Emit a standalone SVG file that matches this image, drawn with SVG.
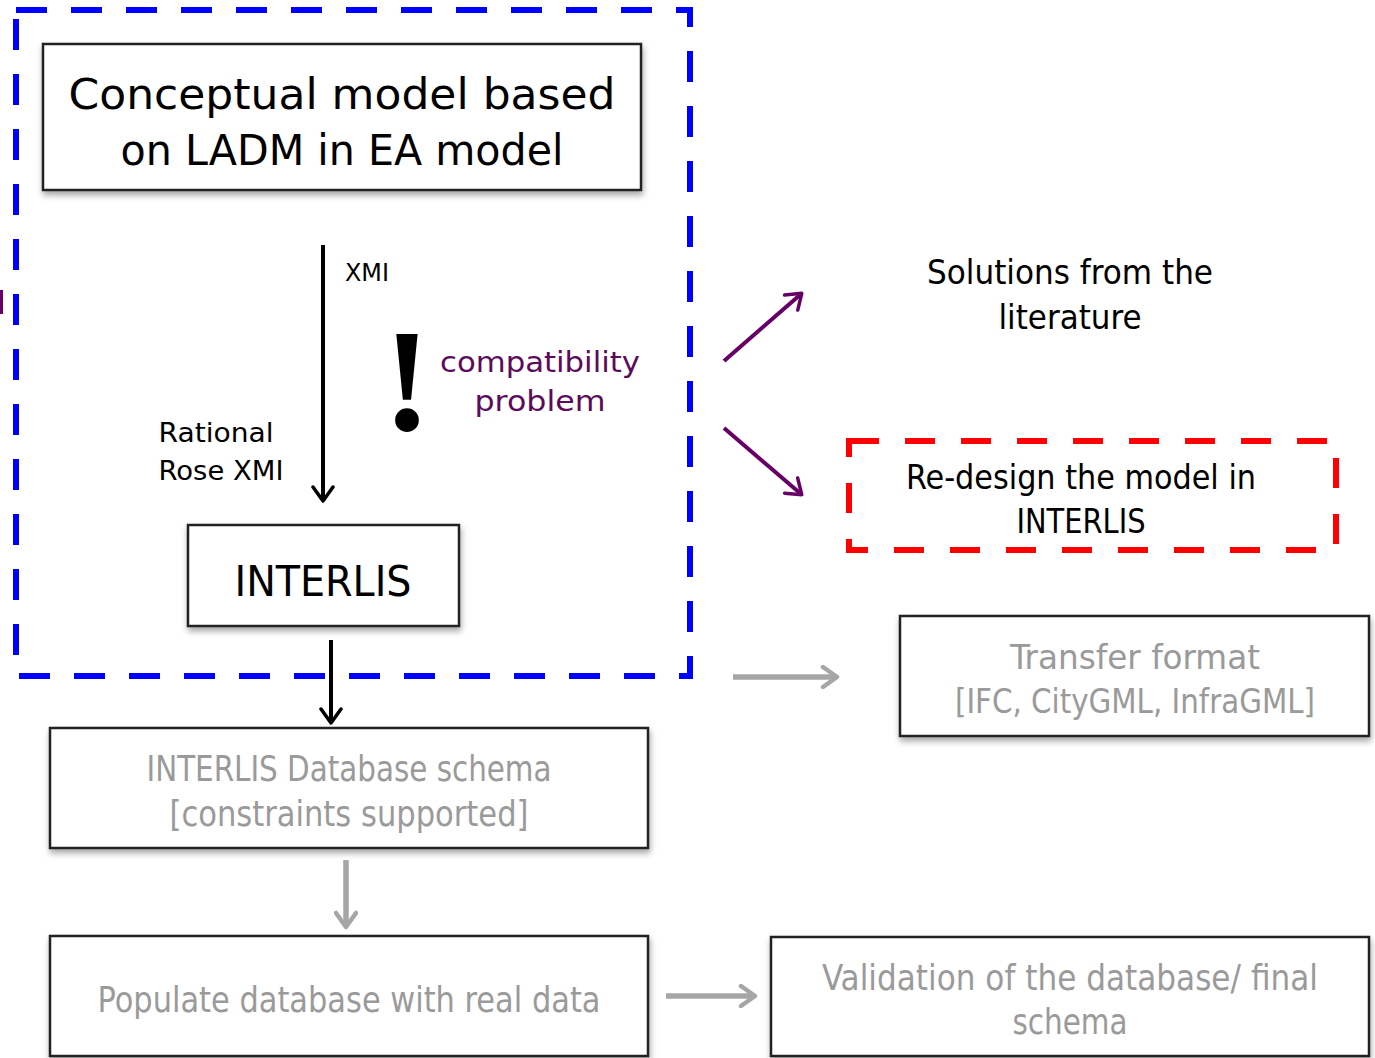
<svg xmlns="http://www.w3.org/2000/svg" width="1375" height="1058" viewBox="0 0 1375 1058">
<defs>
<filter id="sh" x="-5%" y="-5%" width="112%" height="120%">
<feDropShadow dx="1" dy="4" stdDeviation="3" flood-color="#000" flood-opacity="0.35"/>
</filter>
<marker id="ak" viewBox="0 0 24 24" refX="17" refY="12" markerWidth="24" markerHeight="24" markerUnits="userSpaceOnUse" orient="auto">
<path d="M4,2 L18,12 L4,22" fill="none" stroke="#000" stroke-width="3.5" stroke-linecap="round" stroke-linejoin="round"/>
</marker>
<marker id="ag" viewBox="0 0 24 24" refX="17" refY="12" markerWidth="24" markerHeight="24" markerUnits="userSpaceOnUse" orient="auto">
<path d="M4,2 L18,12 L4,22" fill="none" stroke="#a6a6a6" stroke-width="4.5" stroke-linecap="round" stroke-linejoin="round"/>
</marker>
<marker id="ap" viewBox="0 0 24 24" refX="17" refY="12" markerWidth="24" markerHeight="24" markerUnits="userSpaceOnUse" orient="auto">
<path d="M4,2 L18,12 L4,22" fill="none" stroke="#660066" stroke-width="3.5" stroke-linecap="round" stroke-linejoin="round"/>
</marker>
</defs>
<style>
.box{fill:#fff;stroke:#222;stroke-width:2.5}
.t{font-family:"DejaVu Sans","Liberation Sans",sans-serif;text-anchor:middle;fill:#000}
.n{font-family:"DejaVu Sans Condensed","DejaVu Sans","Liberation Sans",sans-serif;text-anchor:middle;fill:#000}
.g{fill:#9a9a9a}
.blk{stroke:#000;stroke-width:4;fill:none}
.gry{stroke:#a6a6a6;stroke-width:5.5;fill:none}
.pur{stroke:#660066;stroke-width:4;fill:none}
</style>
<rect x="0" y="290" width="3" height="24" fill="#660066"/>
<g id="blue-region">
<rect x="16" y="10" width="674" height="666" fill="none" stroke="#0000ff" stroke-width="6" stroke-dasharray="31 24"/>
</g>
<g id="n-conceptual">
<rect class="box" x="43" y="44" width="598" height="146" filter="url(#sh)"/>
<text class="t" x="342" y="109" font-size="42" textLength="547" lengthAdjust="spacingAndGlyphs">Conceptual model based</text>
<text class="t" x="342" y="165" font-size="42" textLength="443" lengthAdjust="spacingAndGlyphs">on LADM in EA model</text>
</g>
<g id="n-interlis">
<rect class="box" x="188" y="525" width="271" height="101" filter="url(#sh)"/>
<text class="n" x="323" y="596" font-size="42" textLength="177" lengthAdjust="spacingAndGlyphs">INTERLIS</text>
</g>
<g id="n-labels">
<text class="t" x="367" y="281" font-size="24" textLength="44" lengthAdjust="spacingAndGlyphs">XMI</text>
<text class="t" x="216" y="442" font-size="26" textLength="115" lengthAdjust="spacingAndGlyphs">Rational</text>
<text class="t" x="221" y="480" font-size="26" textLength="125" lengthAdjust="spacingAndGlyphs">Rose XMI</text>
<text x="407" y="430" font-family="Liberation Serif,serif" font-weight="bold" font-size="146" text-anchor="middle" fill="#000">!</text>
<text class="t" x="540" y="372" font-size="28" style="fill:#5c0a5c" textLength="200" lengthAdjust="spacingAndGlyphs">compatibility</text>
<text class="t" x="540" y="411" font-size="28" style="fill:#5c0a5c" textLength="131" lengthAdjust="spacingAndGlyphs">problem</text>
</g>
<g id="n-solutions">
<text class="n" x="1070" y="284" font-size="34" textLength="286" lengthAdjust="spacingAndGlyphs">Solutions from the</text>
<text class="n" x="1070" y="329" font-size="34" textLength="143" lengthAdjust="spacingAndGlyphs">literature</text>
</g>
<g id="n-redesign">
<rect x="849" y="441" width="487" height="109" fill="none" stroke="#ff0000" stroke-width="6" stroke-dasharray="30 26"/>
<text class="n" x="1081" y="489" font-size="34" textLength="350" lengthAdjust="spacingAndGlyphs">Re-design the model in</text>
<text class="n" x="1081" y="533" font-size="34" textLength="129" lengthAdjust="spacingAndGlyphs">INTERLIS</text>
</g>
<g id="n-transfer">
<rect class="box" x="900" y="616" width="469" height="120" filter="url(#sh)"/>
<text class="n g" x="1135" y="669" font-size="34" textLength="250" lengthAdjust="spacingAndGlyphs">Transfer format</text>
<text class="n g" x="1135" y="713" font-size="34" textLength="360" lengthAdjust="spacingAndGlyphs">[IFC, CityGML, InfraGML]</text>
</g>
<g id="n-dbschema">
<rect class="box" x="50" y="728" width="598" height="120" filter="url(#sh)"/>
<text class="n g" x="349" y="781" font-size="35" textLength="405" lengthAdjust="spacingAndGlyphs">INTERLIS Database schema</text>
<text class="n g" x="349" y="826" font-size="35" textLength="359" lengthAdjust="spacingAndGlyphs">[constraints supported]</text>
</g>
<g id="n-populate">
<rect class="box" x="50" y="936" width="598" height="120" filter="url(#sh)"/>
<text class="n g" x="349" y="1012" font-size="35" textLength="503" lengthAdjust="spacingAndGlyphs">Populate database with real data</text>
</g>
<g id="n-validation">
<rect class="box" x="771" y="937" width="598" height="119" filter="url(#sh)"/>
<text class="n g" x="1070" y="990" font-size="35" textLength="496" lengthAdjust="spacingAndGlyphs">Validation of the database/ final</text>
<text class="n g" x="1070" y="1034" font-size="35" textLength="115" lengthAdjust="spacingAndGlyphs">schema</text>
</g>
<g id="connectors">
<line class="blk" x1="323" y1="245" x2="323" y2="500" marker-end="url(#ak)"/>
<line class="blk" x1="331" y1="640" x2="331" y2="722" marker-end="url(#ak)"/>
<line class="gry" x1="346" y1="860" x2="346" y2="926" marker-end="url(#ag)"/>
<line class="gry" x1="666" y1="996" x2="754" y2="996" marker-end="url(#ag)"/>
<line class="gry" x1="733" y1="677" x2="836" y2="677" marker-end="url(#ag)"/>
<line class="pur" x1="724" y1="361" x2="801" y2="294" marker-end="url(#ap)"/>
<line class="pur" x1="724" y1="428" x2="801" y2="494" marker-end="url(#ap)"/>
</g>
</svg>
